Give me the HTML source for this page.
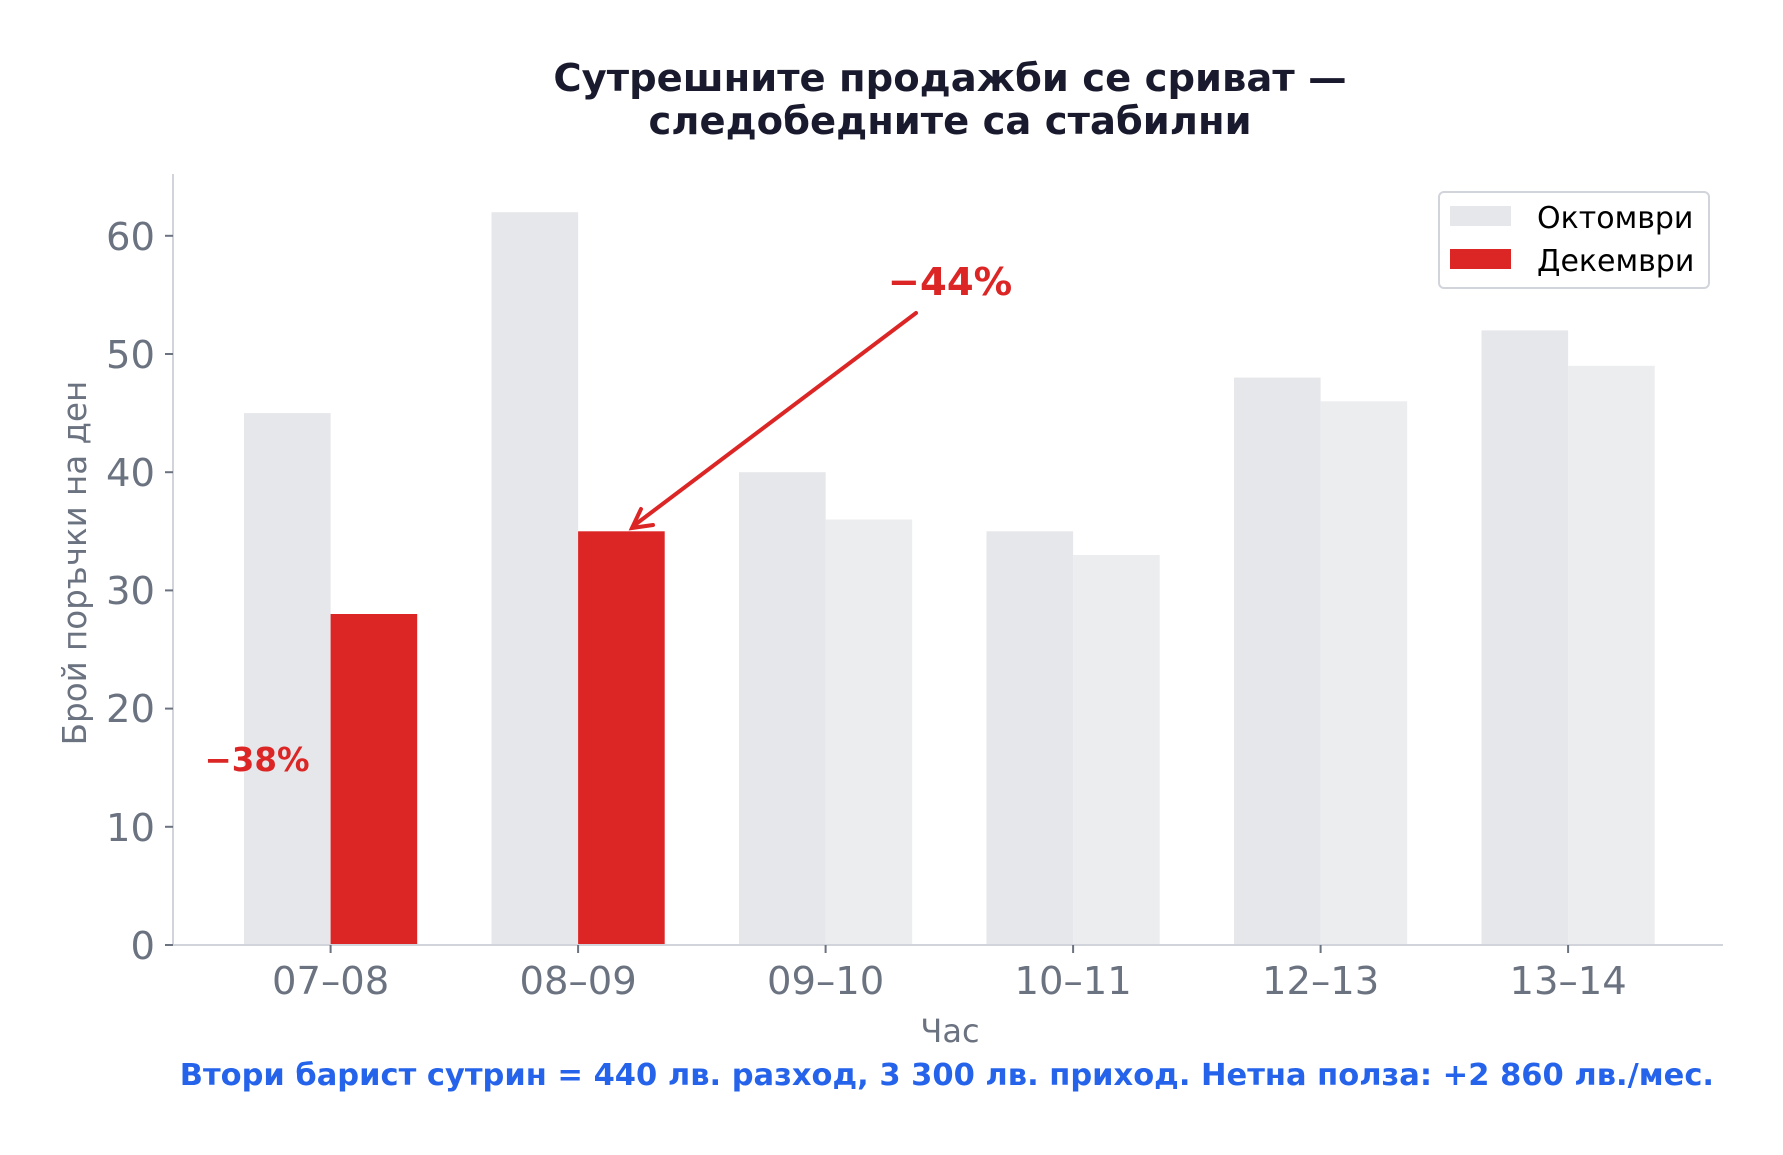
<!DOCTYPE html>
<html><head><meta charset="utf-8"><style>body{margin:0;background:#fff}</style></head><body>
<svg width="1783" height="1150" xmlns="http://www.w3.org/2000/svg" font-family="DejaVu Sans, Liberation Sans, sans-serif">
<rect width="1783" height="1150" fill="#fff"/>
<g font-weight="bold" font-size="38.5" fill="#1a1a2e" text-anchor="middle">
<text x="950" y="91">Сутрешните продажби се сриват —</text>
<text x="950" y="134">следобедните са стабилни</text>
</g>
<g id="bars">
<rect x="244" y="413.1" width="86.6" height="531.9" fill="#e6e7ea"/>
<rect x="330.6" y="614" width="86.6" height="331" fill="#dc2626"/>
<rect x="491.5" y="212.2" width="86.6" height="732.8" fill="#e6e7ea"/>
<rect x="578.1" y="531.3" width="86.6" height="413.7" fill="#dc2626"/>
<rect x="739" y="472.2" width="86.6" height="472.8" fill="#e6e7ea"/>
<rect x="825.6" y="519.5" width="86.6" height="425.5" fill="#ecedef"/>
<rect x="986.5" y="531.3" width="86.6" height="413.7" fill="#e6e7ea"/>
<rect x="1073.1" y="555" width="86.6" height="390" fill="#ecedef"/>
<rect x="1234" y="377.6" width="86.6" height="567.4" fill="#e6e7ea"/>
<rect x="1320.6" y="401.3" width="86.6" height="543.7" fill="#ecedef"/>
<rect x="1481.5" y="330.4" width="86.6" height="614.6" fill="#e6e7ea"/>
<rect x="1568.1" y="365.8" width="86.6" height="579.2" fill="#ecedef"/>
</g>
<g stroke="#d1d5db" stroke-width="2">
<line x1="173" y1="174" x2="173" y2="945"/>
<line x1="173" y1="945" x2="1723" y2="945"/>
</g>
<g stroke="#6b7280" stroke-width="2">
<line x1="165" y1="945" x2="173" y2="945"/><line x1="165" y1="826.8" x2="173" y2="826.8"/>
<line x1="165" y1="708.6" x2="173" y2="708.6"/><line x1="165" y1="590.4" x2="173" y2="590.4"/>
<line x1="165" y1="472.2" x2="173" y2="472.2"/><line x1="165" y1="354" x2="173" y2="354"/>
<line x1="165" y1="235.8" x2="173" y2="235.8"/>
<line x1="330.6" y1="945" x2="330.6" y2="953"/><line x1="578.1" y1="945" x2="578.1" y2="953"/>
<line x1="825.6" y1="945" x2="825.6" y2="953"/><line x1="1073.1" y1="945" x2="1073.1" y2="953"/>
<line x1="1320.6" y1="945" x2="1320.6" y2="953"/><line x1="1568.1" y1="945" x2="1568.1" y2="953"/>
</g>
<g font-size="38.5" fill="#6b7280" text-anchor="end">
<text x="155" y="959">0</text><text x="155" y="841">10</text><text x="155" y="722">20</text>
<text x="155" y="604">30</text><text x="155" y="486">40</text><text x="155" y="368">50</text><text x="155" y="250">60</text>
</g>
<g font-size="38.5" fill="#6b7280" text-anchor="middle">
<text x="330.6" y="994">07–08</text><text x="578.1" y="994">08–09</text><text x="825.6" y="994">09–10</text>
<text x="1073.1" y="994">10–11</text><text x="1320.6" y="994">12–13</text><text x="1568.1" y="994">13–14</text>
<text x="950" y="1042" font-size="32">Час</text>
<text transform="translate(86,563) rotate(-90)" font-size="32.5">Брой поръчки на ден</text>
</g>
<rect x="1439" y="192" width="270" height="96" rx="5" fill="#fff" stroke="#d1d5db" stroke-width="2"/>
<rect x="1450" y="206" width="61" height="20" fill="#e6e7ea"/>
<rect x="1450" y="249" width="61" height="20" fill="#dc2626"/>
<g font-size="30" fill="#000"><text x="1537" y="228">Октомври</text><text x="1537" y="271">Декември</text></g>
<text x="257" y="771" font-size="32.5" font-weight="bold" fill="#dc2626" text-anchor="middle">−38%</text>
<text x="950" y="295" font-size="38.5" font-weight="bold" fill="#dc2626" text-anchor="middle">−44%</text>
<line x1="916" y1="313" x2="636" y2="524" stroke="#dc2626" stroke-width="4" stroke-linecap="round"/>
<polyline points="641,509 632,528 653,525" fill="none" stroke="#dc2626" stroke-width="4" stroke-linecap="round"/>
<text x="1714" y="1085" font-size="30.5" font-weight="bold" fill="#2563eb" text-anchor="end">Втори барист сутрин = 440 лв. разход, 3 300 лв. приход. Нетна полза: +2 860 лв./мес.</text>
</svg>
</body></html>
